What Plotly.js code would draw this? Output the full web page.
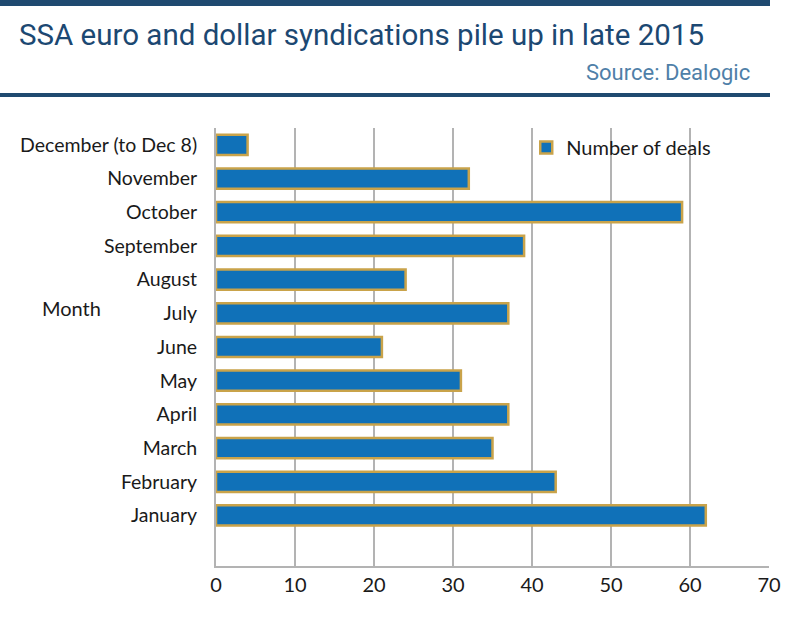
<!DOCTYPE html>
<html>
<head>
<meta charset="utf-8">
<script src="https://cdn.plot.ly/plotly-3.0.1.min.js"></script>
<style>html,body{margin:0;padding:0;background:#fff;}#chart{width:800px;height:619px;}</style>
</head>
<body>
<div id="chart"></div>
<script>
const months = ["January","February","March","April","May","June","July","August","September","October","November","December (to Dec 8)"];
const deals = [62, 43, 35, 37, 31, 21, 37, 24, 39, 59, 32, 4];
const xTicks = [0, 10, 20, 30, 40, 50, 60, 70];
const seriesName = "Number of deals";
const titleText = "SSA euro and dollar syndications pile up in late 2015";
const sourceText = "Source: Dealogic";
const axisTitle = "Month";

const trace = {
  type: "bar",
  orientation: "h",
  y: months,
  x: deals,
  name: seriesName,
  width: 0.6,
  marker: {color: "#1071b8", line: {color: "#c9a34a", width: 2.5}},
  showlegend: true
};

const layout = {
  width: 800, height: 619,
  margin: {l: 216, r: 31, t: 128, b: 53},
  paper_bgcolor: "#fff", plot_bgcolor: "#fff",
  font: {family: "Lato, sans-serif", size: 20, color: "#1a1a1a"},
  xaxis: {
    range: [0, 70], tickvals: xTicks, ticktext: xTicks.map(String),
    showgrid: true, gridcolor: "#b3b3b3", gridwidth: 2,
    zeroline: false, showline: true, linecolor: "#b3b3b3", linewidth: 2,
    ticks: "", tickfont: {size: 20, color: "#1a1a1a"}, fixedrange: true
  },
  yaxis: {
    type: "category", categoryorder: "array", categoryarray: months,
    range: [-1.5, 11.5], showgrid: false, zeroline: false,
    showline: true, linecolor: "#b3b3b3", linewidth: 2,
    ticks: "", ticklabelstandoff: 13, tickfont: {size: 19.5, color: "#1a1a1a"}, fixedrange: true
  },
  legend: {x: 0.561, y: 1.0, xanchor: "left", yanchor: "top", bgcolor: "rgba(0,0,0,0)",
    font: {size: 20, color: "#1a1a1a"}, itemwidth: 30},
  showlegend: true,
  annotations: [
    {xref: "paper", yref: "paper", x: (71-216)/553, y: 1 - (308-128)/438, text: axisTitle, showarrow: false,
     xanchor: "center", yanchor: "middle", font: {size: 20, color: "#1a1a1a"}},
    {xref: "paper", yref: "paper", x: (17-216)/553, y: 1 + (128-35)/438, text: titleText, showarrow: false,
     xanchor: "left", yanchor: "middle", font: {family: "Roboto, sans-serif", size: 29.5, color: "#1c4872"}},
    {xref: "paper", yref: "paper", x: (752-216)/553, y: 1 + (128-72)/438, text: sourceText, showarrow: false,
     xanchor: "right", yanchor: "middle", font: {family: "Roboto, sans-serif", size: 22, color: "#4f7fa8"}}
  ],
  shapes: [
    {type: "rect", xref: "paper", yref: "paper", x0: -216/553, x1: (770-216)/553,
     y0: 1 + (128-6)/438, y1: 1 + (128-0)/438, fillcolor: "#1f4a70", line: {width: 0}},
    {type: "rect", xref: "paper", yref: "paper", x0: -216/553, x1: (770-216)/553,
     y0: 1 + (128-97)/438, y1: 1 + (128-93)/438, fillcolor: "#1f4a70", line: {width: 0}}
  ]
};

Plotly.newPlot("chart", [trace], layout, {displayModeBar: false, staticPlot: true});
</script>
</body>
</html>
